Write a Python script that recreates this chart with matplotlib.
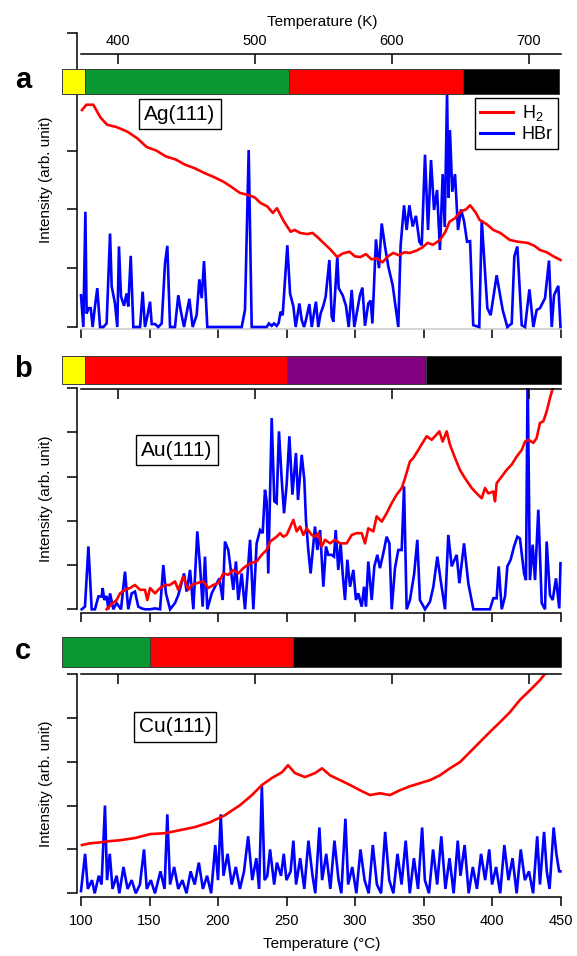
import matplotlib
matplotlib.use('Agg')
import matplotlib.pyplot as plt
from matplotlib.patches import Rectangle
from matplotlib.lines import Line2D

plt.rcParams['font.family'] = ['Liberation Sans', 'DejaVu Sans']
plt.rcParams['mathtext.fontset'] = 'custom'
plt.rcParams['mathtext.rm'] = 'Liberation Sans'
plt.rcParams['mathtext.it'] = 'Liberation Sans'

# ---------------- data ----------------
temp_ticks_c = [100, 150, 200, 250, 300, 350, 400, 450]
temp_ticks_k = [400, 500, 600, 700]
sample_names = ['Ag(111)', 'Au(111)', 'Cu(111)']
panel_letters = ['a', 'b', 'c']

# colour stripes: (start degC, end degC, colour)
stripes_a = [(86, 103, '#ffff00'), (103, 251.5, '#0a9830'), (251.5, 378.5, '#ff0000'), (378.5, 449, '#000000')]
stripes_b = [(86, 103, '#ffff00'), (103, 250, '#ff0000'), (250, 352, '#800080'), (352, 450, '#000000')]
stripes_c = [(86, 150, '#0a9830'), (150, 255, '#ff0000'), (255, 450, '#000000')]

# H2 / HBr traces: (temperature degC, intensity arb.)
h2_a = [(100.7, 3.69), (104, 3.78), (109, 3.78), (114, 3.57), (119, 3.44), (126, 3.40), (134, 3.32),
        (141, 3.21), (148, 3.06), (155, 3.0), (162, 2.9), (169, 2.85), (176, 2.76), (183, 2.7), (190, 2.62),
        (197, 2.55), (204, 2.47), (210, 2.38), (216, 2.28), (223, 2.24), (227, 2.2), (231, 2.11), (236, 2.05),
        (240, 1.94), (243, 2.02), (248, 1.8), (253, 1.62), (256, 1.65), (260, 1.60), (265, 1.58), (269, 1.60),
        (273, 1.52), (277, 1.43), (282, 1.32), (287, 1.19), (291, 1.25), (296, 1.28), (300, 1.2), (304, 1.19),
        (308, 1.24), (312, 1.15), (316, 1.17), (320, 1.1), (324, 1.2), (328, 1.26), (332, 1.22), (336, 1.27),
        (340, 1.26), (345, 1.3), (349, 1.35), (353, 1.43), (357, 1.40), (362, 1.48), (366, 1.62), (369, 1.79),
        (373, 1.85), (377, 1.96), (381, 2.0), (384, 2.07), (388, 1.95), (391, 1.82), (396, 1.75), (401, 1.65),
        (406, 1.6), (413, 1.48), (419, 1.45), (426, 1.43), (431, 1.38), (435, 1.31), (440, 1.27), (445, 1.2),
        (450, 1.14)]

hbr_a = [(100.0, 0.54), (101.7, 0.0), (103.2, 1.96), (104.1, 0.23), (105.6, 0.32), (107.1, 0.32), (108.5, 0.0),
         (110.2, 0.35), (111.9, 0.66), (113.9, 0.0), (116.3, 0.0), (118.7, 0.06), (121.2, 1.59), (122.4, 0.69),
         (124.8, 0.40), (126.5, 0.0), (127.7, 1.37), (129.2, 0.52), (131.4, 0.36), (133.3, 0.57), (134.5, 0.35),
         (136.3, 1.21), (138.2, 0.0), (143.1, 0.0), (145.0, 0.60), (146.7, 0.0), (148.4, 0.18), (150.4, 0.43),
         (151.6, 0.05), (154.0, 0.05), (156.4, 0.0), (158.9, 0.06), (161.3, 1.08), (163.0, 1.38), (165.0, 0.0),
         (168.6, 0.0), (171.0, 0.54), (172.7, 0.29), (175.2, 0.0), (179.1, 0.48), (181.5, 0.0), (184.4, 0.20),
         (186.4, 0.81), (188.1, 0.49), (189.8, 1.12), (192.2, 0.0), (217.3, 0.0), (219.7, 0.29), (222.4, 3.01),
         (224.6, 0.0), (235.5, 0.0), (237.2, 0.06), (239.2, 0.02), (240.9, 0.06), (242.8, 0.02), (244.3, 0.07),
         (245.7, 0.26), (247.2, 0.20), (250.6, 1.39), (252.6, 0.57), (255.0, 0.35), (256.7, 0.0), (259.4, 0.40),
         (261.1, 0.12), (262.8, 0.0), (264.2, 0.12), (266.7, 0.39), (268.4, 0.0), (271.5, 0.43), (273.2, 0.0),
         (274.9, 0.23), (276.9, 0.36), (278.6, 0.52), (281.3, 1.14), (283.0, 0.18), (284.2, 0.09), (287.1, 1.21),
         (288.1, 0.66), (291.0, 0.54), (293.4, 0.36), (295.4, 0.0), (297.6, 0.63), (299.5, 0.0), (301.7, 0.29),
         (303.6, 0.54), (305.4, 0.67), (307.3, 0.02), (309.7, 0.40), (311.4, 0.45), (312.7, 0.06), (315.3, 1.49),
         (317.5, 1.00), (319.5, 1.76), (321.9, 1.37), (324.3, 1.03), (327.5, 0.71), (331.6, 0.0), (333.3, 1.39),
         (335.8, 2.07), (337.7, 1.65), (339.7, 2.07), (342.1, 1.71), (344.5, 1.89), (347.0, 1.45), (348.7, 1.39),
         (351.1, 2.93), (353.3, 1.65), (355.5, 2.84), (357.7, 1.99), (359.9, 2.33), (362.0, 1.31), (364.0, 2.6),
         (365.5, 1.7), (367.2, 4.0), (368.2, 2.2), (369.3, 3.35), (371.0, 2.3), (373.0, 2.6), (375.2, 1.65),
         (377.4, 2.0), (379.6, 1.8), (381.8, 1.45), (384.0, 1.46), (386.3, 0.03), (390.7, 0.0), (392.5, 1.82),
         (396.6, 0.32), (399.0, 0.20), (403.4, 0.88), (407.8, 0.29), (411.2, 0.0), (414.4, 0.06), (416.3, 1.20),
         (418.5, 1.37), (421.7, 0.03), (424.1, 0.0), (427.3, 0.64), (430.2, 0.0), (432.6, 0.29), (435.0, 0.32),
         (438.7, 0.49), (441.6, 1.13), (443.6, 0.0), (445.3, 0.54), (448.4, 0.70), (450.0, 0.0)]

h2_b = [(118.7, 0.0), (122.4, 0.12), (126.0, 0.21), (128.5, 0.36), (132.1, 0.44), (135.8, 0.48), (139.4, 0.55),
        (143.1, 0.44), (146.7, 0.44), (148.4, 0.21), (150.4, 0.48), (154.0, 0.36), (157.7, 0.48), (161.3, 0.55),
        (165.0, 0.55), (168.6, 0.63), (171.0, 0.44), (174.7, 0.74), (178.3, 0.44), (180.8, 0.55), (184.4, 0.59),
        (189.3, 0.63), (192.9, 0.48), (196.6, 0.55), (200.2, 0.59), (203.9, 0.81), (207.5, 0.78), (211.2, 0.89),
        (214.8, 0.81), (218.5, 0.93), (223.4, 1.04), (228.2, 1.08), (231.9, 1.23), (235.5, 1.34), (238.0, 1.53),
        (242.8, 1.64), (245.3, 1.72), (247.7, 1.64), (250.1, 1.68), (255.0, 2.02), (257.4, 1.76), (259.9, 1.87),
        (262.3, 1.68), (264.7, 1.83), (268.4, 1.68), (270.8, 1.64), (273.2, 1.72), (275.7, 1.42), (278.1, 1.57),
        (281.8, 1.49), (285.4, 1.57), (289.1, 1.49), (293.9, 1.49), (297.6, 1.68), (301.2, 1.72), (304.9, 1.72),
        (307.3, 1.49), (309.7, 1.83), (313.4, 1.76), (315.8, 2.10), (319.5, 1.98), (323.1, 2.17), (326.8, 2.40),
        (330.4, 2.59), (334.1, 2.74), (336.5, 2.96), (340.1, 3.34), (342.6, 3.42), (346.2, 3.60), (349.9, 3.79),
        (352.3, 3.91), (356.0, 3.83), (358.4, 3.91), (361.6, 4.02), (364.0, 3.79), (366.9, 4.02), (369.3, 3.72),
        (373.0, 3.42), (376.6, 3.15), (380.3, 2.96), (385.2, 2.74), (388.8, 2.62), (392.5, 2.51), (394.9, 2.74),
        (397.3, 2.62), (401.0, 2.66), (402.2, 2.44), (403.4, 2.85), (407.1, 3.00), (410.7, 3.15), (414.4, 3.27),
        (418.0, 3.45), (421.7, 3.60), (424.1, 3.79), (426.5, 3.83), (430.2, 3.76), (432.6, 3.87), (435.0, 4.21),
        (437.5, 4.25), (439.9, 4.47), (442.3, 4.77), (444.8, 5.04), (447.2, 5.34), (449.6, 5.57)]

hbr_b = [(100.5, 0.0), (102.9, 0.06), (105.4, 1.42), (107.8, 0.0), (110.2, 0.0), (112.7, 0.29), (115.1, 0.29),
         (115.8, 0.48), (117.0, 0.21), (118.7, 0.30), (120.0, 0.0), (121.2, 0.36), (123.6, 0.0), (126.0, 0.14),
         (129.2, 0.0), (132.1, 0.85), (134.5, 0.0), (137.0, 0.36), (139.4, 0.40), (141.8, 0.06), (144.3, 0.02),
         (146.7, 0.0), (150.4, 0.0), (154.0, 0.02), (157.7, 0.0), (160.1, 1.00), (162.0, 0.36), (165.0, 0.0),
         (168.6, 0.14), (171.0, 0.32), (172.7, 0.51), (175.2, 0.81), (177.1, 0.40), (179.6, 0.89), (182.0, 0.0),
         (184.9, 1.76), (186.9, 0.97), (188.8, 0.06), (190.5, 1.19), (192.2, 0.0), (195.4, 0.36), (197.8, 0.51),
         (201.0, 0.70), (203.4, 0.21), (205.1, 1.53), (207.5, 1.34), (209.2, 0.93), (211.2, 0.44), (213.1, 1.08),
         (214.8, 0.21), (217.3, 0.81), (219.7, 0.0), (223.4, 1.57), (225.8, 0.0), (228.2, 1.49), (230.7, 1.79),
         (232.6, 1.72), (234.3, 2.70), (235.5, 2.44), (236.7, 0.81), (239.2, 4.32), (241.1, 2.44), (242.8, 2.40),
         (244.5, 4.02), (246.5, 2.93), (248.2, 2.17), (250.1, 2.81), (252.1, 3.91), (254.3, 2.59), (256.9, 3.53),
         (258.4, 2.47), (261.1, 3.49), (263.0, 2.93), (264.2, 2.02), (265.9, 1.34), (267.6, 0.81), (270.8, 1.87),
         (272.5, 1.34), (274.5, 1.79), (276.9, 0.51), (278.8, 1.42), (280.5, 1.23), (283.0, 1.23), (284.7, 1.19),
         (285.9, 1.79), (287.8, 0.89), (289.5, 1.49), (291.0, 0.81), (292.7, 0.21), (294.4, 1.12), (296.4, 0.51),
         (298.8, 0.89), (300.7, 0.21), (302.4, 0.36), (304.9, 0.06), (306.6, 0.51), (308.0, 0.06), (309.7, 1.08),
         (312.2, 0.21), (314.1, 0.97), (316.3, 1.23), (318.2, 0.93), (320.7, 1.27), (323.1, 1.64), (325.1, 1.49),
         (326.8, 0.0), (329.2, 0.93), (331.6, 1.34), (334.1, 1.34), (335.8, 2.78), (337.7, 0.0), (340.1, 0.21),
         (343.1, 0.78), (345.5, 1.57), (347.4, 0.21), (351.1, 0.0), (354.7, 0.17), (357.2, 0.51), (360.1, 1.19),
         (362.5, 0.66), (365.7, 0.0), (368.1, 1.68), (370.6, 0.97), (374.2, 1.23), (376.2, 0.59), (379.6, 1.49),
         (382.7, 0.59), (386.4, 0.0), (398.5, 0.0), (401.0, 0.25), (403.4, 0.25), (404.9, 0.97), (407.1, 0.0),
         (409.5, 0.29), (411.2, 0.97), (413.6, 1.12), (416.1, 1.42), (418.5, 1.64), (420.4, 1.60), (423.4, 0.81),
         (424.8, 0.66), (426.0, 5.3), (427.7, 0.66), (429.7, 1.46), (431.4, 0.66), (433.8, 2.25), (436.3, 0.14),
         (438.7, 0.0), (439.9, 1.53), (442.3, 0.32), (444.3, 0.21), (446.7, 0.70), (449.1, 0.02), (450.0, 1.04)]

h2_c = [(100.7, 1.10), (106.6, 1.14), (113.9, 1.16), (121.2, 1.19), (128.5, 1.21), (139.4, 1.26), (150.4, 1.35),
        (161.3, 1.37), (172.3, 1.44), (183.2, 1.51), (194.2, 1.62), (205.1, 1.78), (216.1, 2.01), (224.8, 2.24),
        (232.1, 2.47), (239.4, 2.63), (246.7, 2.76), (251.1, 2.92), (256.2, 2.74), (263.5, 2.65), (270.8, 2.74),
        (275.9, 2.85), (281.8, 2.69), (289.1, 2.58), (296.4, 2.47), (303.6, 2.35), (310.9, 2.24), (318.2, 2.28),
        (325.5, 2.24), (332.8, 2.35), (340.1, 2.44), (347.4, 2.51), (354.7, 2.58), (362.0, 2.69), (369.3, 2.85),
        (376.6, 2.99), (383.9, 3.22), (391.2, 3.45), (398.5, 3.68), (405.8, 3.90), (413.1, 4.13), (420.4, 4.41),
        (427.7, 4.63), (435.0, 4.86), (440.9, 5.09), (446.0, 5.32)]

hbr_c = [(100, 0.05), (103, 0.9), (105, 0.1), (108, 0.3), (110, 0.0), (113, 0.4), (115, 0.2), (117.5, 2.0),
         (119, 0.3), (121, 0.9), (123, 0.1), (126, 0.4), (128, 0.0), (131, 0.6), (134, 0.1), (137, 0.3),
         (140, 0.0), (143, 0.2), (146, 1.0), (148, 0.1), (151, 0.3), (154, 0.0), (158, 0.5), (161, 0.1),
         (163, 1.8), (165, 0.2), (168, 0.6), (171, 0.1), (174, 0.3), (177, 0.0), (180, 0.5), (183, 0.2),
         (186, 0.7), (189, 0.1), (192, 0.4), (195, 0.0), (198, 1.1), (200, 0.3), (202, 1.8), (204, 0.4),
         (207, 0.9), (210, 0.2), (213, 0.6), (216, 0.1), (219, 0.5), (222, 1.3), (225, 0.3), (228, 0.8),
         (230, 0.1), (232, 2.45), (234, 0.3), (236, 0.4), (238, 1.0), (241, 0.2), (243, 0.7), (246, 0.4),
         (248, 0.9), (250, 0.3), (253, 0.5), (255, 1.2), (257, 0.2), (260, 0.8), (263, 0.1), (266, 1.2),
         (269, 0.4), (271, 0.0), (274, 1.5), (276, 0.3), (279, 0.9), (282, 0.1), (285, 1.2), (288, 0.3),
         (290, 0.0), (293, 1.7), (295, 0.2), (298, 0.6), (301, 0.0), (304, 1.0), (307, 0.3), (310, 0.0),
         (313, 1.1), (316, 0.2), (319, 0.0), (322, 1.4), (325, 0.3), (328, 0.0), (331, 0.9), (334, 0.2),
         (337, 1.2), (340, 0.0), (343, 0.8), (346, 0.1), (349, 1.5), (351, 0.3), (354, 0.0), (357, 1.0),
         (360, 0.2), (363, 1.3), (366, 0.1), (369, 0.8), (372, 0.0), (375, 1.2), (377, 0.4), (380, 1.1),
         (383, 0.0), (386, 0.6), (389, 0.1), (392, 0.9), (395, 0.3), (398, 1.0), (400, 0.2), (403, 0.6),
         (406, 0.0), (409, 1.1), (412, 0.3), (415, 0.8), (418, 0.0), (421, 1.0), (424, 0.3), (427, 0.5),
         (430, 0.0), (433, 1.3), (435, 0.2), (438, 1.4), (440, 0.5), (442, 0.1), (445, 1.5), (447, 0.9),
         (449, 0.5), (450, 0.5)]

# ---------------- layout ----------------
W, H = 577, 956
fig = plt.figure(figsize=(W / 100, H / 100), dpi=100)

PX_PER_C = 1.37      # horizontal scale (pixels per degC)
X100 = 81.0          # pixel position of 100 degC
AX_L, AX_R = 77, 562
BAR_L = 62
PT = 72 / 100        # points per pixel

def c_at(px):
    return 100 + (px - X100) / PX_PER_C

def fy(py):
    return 1 - py / H

panels = [
    dict(top=33, zero=327, bottom=329, kline=54, bar=(69, 94), h2=h2_a, hbr=hbr_a, stripes=stripes_a,
         label_box=(180, 114), letter_y=88, xlabels=False, klabels=True, xspine_color='#c8c8c8'),
    dict(top=388, zero=609.3, bottom=613, kline=388.5, bar=(356, 384), h2=h2_b, hbr=hbr_b, stripes=stripes_b,
         label_box=(177, 450), letter_y=377, xlabels=False, klabels=False, xspine_color='black'),
    dict(top=674, zero=893.3, bottom=897, kline=674, bar=(637, 667), h2=h2_c, hbr=hbr_c, stripes=stripes_c,
         label_box=(175, 727), letter_y=659, xlabels=True, klabels=False, xspine_color='black'),
]

LW = 1.1
for i, p in enumerate(panels):
    ppv = (p['zero'] - p['top']) / 5.0
    ax = fig.add_axes([AX_L / W, fy(p['bottom']), (AX_R - AX_L) / W, (p['bottom'] - p['top']) / H])
    ax.set_xlim(c_at(AX_L), c_at(AX_R))
    ax.set_ylim(-(p['bottom'] - p['zero']) / ppv, 5)
    ax.patch.set_alpha(0)
    for s in ['top', 'right']:
        ax.spines[s].set_visible(False)
    ax.spines['left'].set_bounds(0, 5)
    ax.spines['left'].set_linewidth(LW)
    ax.spines['bottom'].set_bounds(100, 450)
    ax.spines['bottom'].set_linewidth(LW)
    ax.spines['bottom'].set_color(p['xspine_color'])
    ax.set_yticks([0, 1, 2, 3, 4, 5])
    ax.set_xticks(temp_ticks_c)
    ax.tick_params(axis='y', direction='out', length=10 * PT, width=LW, labelleft=False)
    ax.tick_params(axis='x', direction='out', length=9 * PT, width=LW, color='black',
                   labelbottom=p['xlabels'], labelsize=10.5, pad=6)

    t2, v2 = zip(*p['h2'])
    tb, vb = zip(*p['hbr'])
    ax.plot(tb, vb, color='#0000ff', lw=1.9, solid_joinstyle='miter', label='HBr', zorder=3)
    ax.plot(t2, v2, color='#ff0000', lw=1.9, label='H$_2$', zorder=4)

    # Kelvin axis
    axk = fig.add_axes([AX_L / W, fy(p['kline']) - 0.004, (AX_R - AX_L) / W, 0.004])
    axk.set_xlim(c_at(AX_L) + 273.15, c_at(AX_R) + 273.15)
    axk.patch.set_alpha(0)
    for s in ['bottom', 'left', 'right']:
        axk.spines[s].set_visible(False)
    axk.spines['top'].set_bounds(100 + 273.15, 450 + 273.15)
    axk.spines['top'].set_linewidth(LW)
    axk.set_yticks([])
    axk.set_xticks(temp_ticks_k)
    axk.xaxis.set_ticks_position('top')
    axk.tick_params(axis='x', direction='in', length=10 * PT, width=LW, labeltop=p['klabels'],
                    labelbottom=False, labelsize=10.5, pad=4)

    # stripes
    axb = fig.add_axes([BAR_L / W, fy(p['bar'][1]), (AX_R - BAR_L) / W, (p['bar'][1] - p['bar'][0]) / H])
    axb.set_xlim(c_at(BAR_L), c_at(AX_R))
    axb.set_ylim(0, 1)
    axb.axis('off')
    for (s0, s1, col) in p['stripes']:
        axb.add_patch(Rectangle((s0, 0), s1 - s0, 1, facecolor=col, edgecolor='#3a3a3a', lw=0.7, clip_on=False))

    # sample label
    fig.text(p['label_box'][0] / W, fy(p['label_box'][1]), sample_names[i], ha='center', va='center',
             fontsize=15, bbox=dict(boxstyle='square,pad=0.25', fc='white', ec='black', lw=1.0))
    # panel letter
    fig.text(23 / W, fy(p['letter_y']), panel_letters[i], ha='center', va='baseline', fontsize=21,
             fontweight='bold')
    # y label
    fig.text(46 / W, fy((p['top'] + p['zero']) / 2), 'Intensity (arb. unit)', rotation=90, ha='center',
             va='center', fontsize=11)

    if i == 0:
        handles = [Line2D([], [], color='#ff0000', lw=2.2), Line2D([], [], color='#0000ff', lw=2.2)]
        leg = fig.legend(handles, ['H$_2$', 'HBr'], loc='upper right', bbox_to_anchor=(558 / W, fy(98)),
                         bbox_transform=fig.transFigure, fancybox=False, edgecolor='black', fontsize=13,
                         borderpad=0.3, labelspacing=0.15, handlelength=1.8, handletextpad=0.5,
                         borderaxespad=0, framealpha=1)
        leg.get_frame().set_linewidth(1.0)

fig.text(322 / W, fy(22), 'Temperature (K)', ha='center', va='center', fontsize=11)
fig.text(322 / W, fy(944), 'Temperature (\u00b0C)', ha='center', va='center', fontsize=11)

fig.savefig('out.png', dpi=100)
